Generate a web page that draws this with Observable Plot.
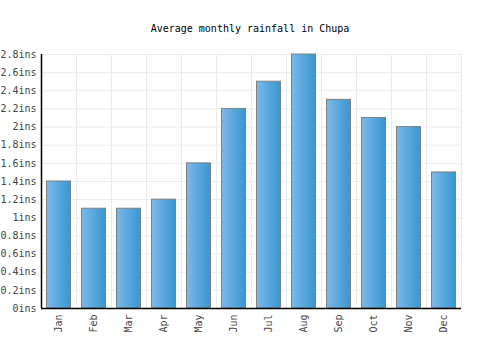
<!DOCTYPE html>
<html>
<head>
<meta charset="utf-8">
<script src="https://cdn.jsdelivr.net/npm/d3@7"></script>
<script src="https://cdn.jsdelivr.net/npm/@observablehq/plot@0.6"></script>
<style>
  html, body { margin: 0; padding: 0; background: #fff; }
  #wrap { width: 500px; height: 350px; font-family: "DejaVu Sans Mono", monospace; }
  #title { height: 40px; line-height: 57px; text-align: center; font-size: 10px; color: #000; }
</style>
</head>
<body>
<div id="wrap">
  <div id="title">Average monthly rainfall in Chupa</div>
  <div id="chart"></div>
</div>
<script>
const months = ["Jan","Feb","Mar","Apr","May","Jun","Jul","Aug","Sep","Oct","Nov","Dec"];
const rainfall = [1.4, 1.1, 1.1, 1.2, 1.6, 2.2, 2.5, 2.8, 2.3, 2.1, 2.0, 1.5];
const yTicks = [0, 0.2, 0.4, 0.6, 0.8, 1, 1.2, 1.4, 1.6, 1.8, 2, 2.2, 2.4, 2.6, 2.8];
const unit = "ins";

const data = months.map((m, i) => ({month: m, i, value: rainfall[i]}));
const boundaries = d3.range(months.length + 1);
const centers = months.map((m, i) => i + 0.5);

const gradientDefs = () => {
  const ns = "http://www.w3.org/2000/svg";
  const defs = document.createElementNS(ns, "defs");
  defs.innerHTML = `<linearGradient id="barGrad" x1="0" x2="1" y1="0" y2="0">
      <stop offset="0" stop-color="#7bb9ea"/>
      <stop offset="1" stop-color="#3996d0"/>
    </linearGradient>`;
  return defs;
};

const chart = Plot.plot({
  width: 500,
  height: 310,
  marginLeft: 41,
  marginRight: 39,
  marginTop: 14,
  marginBottom: 42,
  style: {fontFamily: "'DejaVu Sans Mono', monospace", fontSize: "10px", color: "#444", background: "#fff"},
  x: {domain: [0, months.length], axis: null},
  y: {domain: [0, 2.8], axis: null},
  marks: [
    gradientDefs,
    Plot.ruleY(yTicks, {y: d => d, stroke: "#ebebeb", strokeWidth: 1}),
    Plot.ruleX(boundaries, {x: d => d, stroke: "#ebebeb", strokeWidth: 1}),
    Plot.rectY(data, {x1: d => d.i, x2: d => d.i + 1, y1: 0, y2: "value", insetLeft: 5.5, insetRight: 5.5, fill: "url(#barGrad)", stroke: "#808080", strokeWidth: 1}),
    Plot.ruleX([0], {stroke: "#000", strokeWidth: 1.5}),
    Plot.ruleY([0], {stroke: "#000", strokeWidth: 1.5}),
    Plot.axisY(yTicks, {tickSize: 0, tickPadding: 5, tickFormat: d => d + unit, fill: "#444", label: null}),
    Plot.axisX(centers, {tickSize: 0, tickPadding: 6, tickRotate: -90, tickFormat: d => months[Math.floor(d)], fill: "#444", label: null})
  ]
});
document.getElementById("chart").appendChild(chart);
</script>
</body>
</html>
